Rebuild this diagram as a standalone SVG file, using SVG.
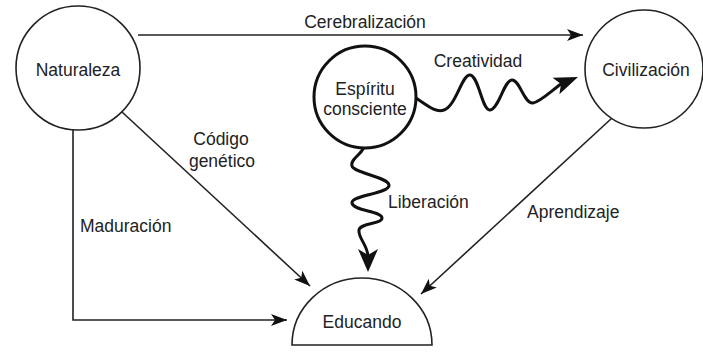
<svg xmlns="http://www.w3.org/2000/svg" width="703" height="352" viewBox="0 0 703 352">
<style>
.node{fill:#fff;stroke:#222;stroke-width:1.6}
.thick{fill:#fff;stroke:#111;stroke-width:3}
.t{font-family:"Liberation Sans",Arial,sans-serif;font-size:17.5px;fill:#222}
.c{text-anchor:middle}
.ln{fill:none;stroke:#222;stroke-width:1.6}
.wv{fill:none;stroke:#111;stroke-width:3;stroke-linecap:round;stroke-linejoin:round}
.hd{fill:#111}
</style>
<defs>
<marker id="a" viewBox="0 0 16 12" refX="16" refY="6" markerWidth="16" markerHeight="12" markerUnits="userSpaceOnUse" orient="auto">
<path d="M0,0 L16,6 L0,12 L4,6 Z" fill="#111"/>
</marker>
</defs>
<rect width="703" height="352" fill="#fff"/>
<g id="connectors">
<line class="ln" x1="138" y1="35" x2="583" y2="35" marker-end="url(#a)"/>
<line class="ln" x1="122" y1="112" x2="310" y2="286" marker-end="url(#a)"/>
<polyline class="ln" points="73,128 73,320 287,320" marker-end="url(#a)"/>
<line class="ln" x1="612" y1="118" x2="421" y2="294" marker-end="url(#a)"/>
<path class="wv" d="M416,98 C428,106 436,113 444,110 C456,106 462,74 470,75 C479,76 482,111 490,110 C499,109 504,80 512,80 C520,80 524,104 533,103 C540,102 550,92 561,84"/>
<polygon class="hd" points="578,77 559.4,94.3 561,84 552.6,77.7"/>
<path class="wv" d="M363,149 C360,155 350,160 352,166 C354,173 388,177 389,185 C390,194 351,195 352,203 C353,211 382,211 382,218 C382,224 360,223 359,230 C358,238 367,244 368,256"/>
<polygon class="hd" points="368,272 358,249 368,255 378,249"/>
</g>
<g id="naturaleza">
<circle class="node" cx="78" cy="68" r="62"/>
<text class="t c" x="78" y="76">Naturaleza</text>
</g>
<g id="civilizacion">
<circle class="node" cx="644" cy="69" r="59"/>
<text class="t c" x="646" y="76">Civilización</text>
</g>
<g id="espiritu">
<circle class="thick" cx="365" cy="97" r="51"/>
<text class="t c" x="365" y="95">Espíritu</text>
<text class="t c" x="365" y="115">consciente</text>
</g>
<g id="educando">
<path class="node" d="M292,345 A70,67 0 0 1 432,345 Z"/>
<text class="t c" x="362" y="328">Educando</text>
</g>
<g id="labels">
<text class="t c" x="365" y="28">Cerebralización</text>
<text class="t c" x="478" y="67">Creatividad</text>
<text class="t c" x="221" y="145">Código</text>
<text class="t c" x="222" y="167">genético</text>
<text class="t" x="80" y="232">Maduración</text>
<text class="t" x="388" y="208">Liberación</text>
<text class="t" x="527" y="218">Aprendizaje</text>
</g>
</svg>
